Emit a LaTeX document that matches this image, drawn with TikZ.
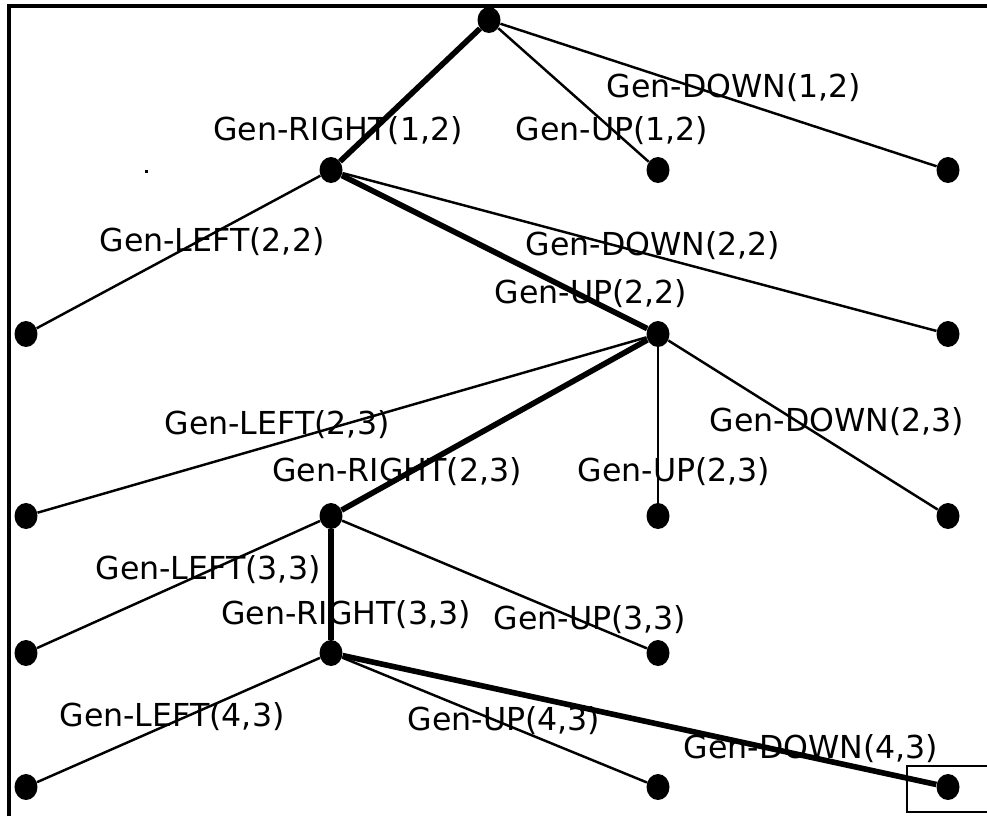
\documentclass[tikz,border=0pt]{standalone}
\usepackage{fontspec}
\setmainfont{DejaVu Sans}
\usetikzlibrary{shapes.geometric}
\tikzset{
  dot/.style={ellipse, fill=black, inner sep=0pt, minimum width=0.46cm, minimum height=0.52cm},
  gen/.style={line width=1.4pt},
  best/.style={line width=3.2pt},
  lbl/.style={font=\fontsize{18}{20}\selectfont, inner sep=0pt},
}

\begin{document}
\begin{tikzpicture}[x=0.02cm, y=-0.02cm]

  \useasboundingbox (0,0) rectangle (987,816);

  % frame
  \draw[line width=2.2pt] (9,816) -- (9,6) -- (987,6);
  \draw[line width=1.4pt] (987,766) -- (907,766) -- (907,812) -- (987,812);
  \fill (145,170) rectangle (148,173);

  % states
  \node[dot] (S0) at (489,20) {};
  \node[dot] (R12) at (331,170) {};
  \node[dot] (U12) at (658,170) {};
  \node[dot] (D12) at (948,170) {};
  \node[dot] (L22) at (26,334) {};
  \node[dot] (U22) at (658,334) {};
  \node[dot] (D22) at (948,334) {};
  \node[dot] (L23) at (26,516) {};
  \node[dot] (R23) at (331,516) {};
  \node[dot] (U23) at (658,516) {};
  \node[dot] (D23) at (948,516) {};
  \node[dot] (L33) at (26,653) {};
  \node[dot] (R33) at (331,653) {};
  \node[dot] (U33) at (658,653) {};
  \node[dot] (L43) at (26,787) {};
  \node[dot] (U43) at (658,787) {};
  \node[dot] (D43) at (948,787) {};

  % expansions
  \draw[best] (S0) -- (R12);
  \draw[gen] (S0) -- (U12);
  \draw[gen] (S0) -- (D12);

  \draw[gen] (R12) -- (L22);
  \draw[best] (R12) -- (U22);
  \draw[gen] (R12) -- (D22);

  \draw[gen] (U22) -- (L23);
  \draw[best] (U22) -- (R23);
  \draw[gen] (U22) -- (U23);
  \draw[gen] (U22) -- (D23);

  \draw[gen] (R23) -- (L33);
  \draw[best] (R23) -- (R33);
  \draw[gen] (R23) -- (U33);

  \draw[gen] (R33) -- (L43);
  \draw[gen] (R33) -- (U43);
  \draw[best] (R33) -- (D43);

  % operator labels
  \node[lbl] (tR12) at (338,131) {Gen-RIGHT(1,2)};
  \node[lbl] (tU12) at (612,131) {Gen-UP(1,2)};
  \node[lbl] (tD12) at (734,88) {Gen-DOWN(1,2)};
  \node[lbl] (tL22) at (212,242) {Gen-LEFT(2,2)};
  \node[lbl] (tD22) at (653,246) {Gen-DOWN(2,2)};
  \node[lbl] (tU22) at (591,294) {Gen-UP(2,2)};
  \node[lbl] (tL23) at (277,425) {Gen-LEFT(2,3)};
  \node[lbl] (tD23) at (837,422) {Gen-DOWN(2,3)};
  \node[lbl] (tR23) at (397,472) {Gen-RIGHT(2,3)};
  \node[lbl] (tU23) at (674,472) {Gen-UP(2,3)};
  \node[lbl] (tL33) at (208,570) {Gen-LEFT(3,3)};
  \node[lbl] (tR33) at (346,615) {Gen-RIGHT(3,3)};
  \node[lbl] (tU33) at (590,620) {Gen-UP(3,3)};
  \node[lbl] (tL43) at (172,717) {Gen-LEFT(4,3)};
  \node[lbl] (tU43) at (504,721) {Gen-UP(4,3)};
  \node[lbl] (tD43) at (811,749) {Gen-DOWN(4,3)};

\end{tikzpicture}
\end{document}
